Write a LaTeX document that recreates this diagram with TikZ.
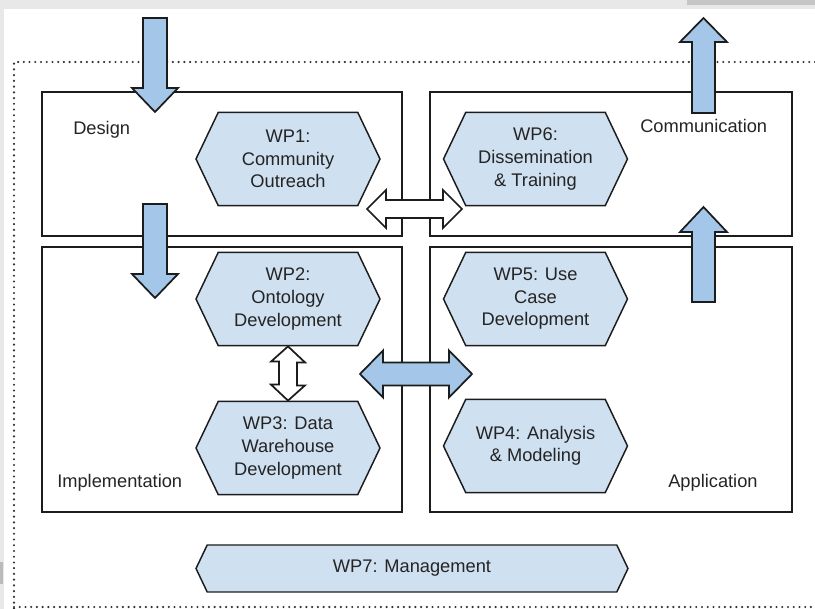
\documentclass[tikz,border=0pt]{standalone}
\usepackage{fontspec}
\setmainfont{Liberation Sans}
\usetikzlibrary{shapes.symbols}
\definecolor{wpfill}{RGB}{207,224,241}
\definecolor{arrowfill}{RGB}{164,198,232}
\definecolor{linecolor}{RGB}{28,28,28}
\definecolor{textcolor}{RGB}{36,36,36}
\definecolor{dotcolor}{RGB}{50,50,50}
\definecolor{screengrey}{RGB}{232,232,232}

\tikzset{
  wp/.style={shape=signal,signal to=east and west,signal pointer angle=129,
    draw=linecolor,fill=wpfill,line width=1.1pt,inner sep=0pt,
    minimum width=138pt,minimum height=70pt,align=center,text=textcolor,
    font=\fontsize{13.7}{16.9}\selectfont},
  quad/.style={draw=linecolor,line width=1.4pt},
  phase/.style={inner sep=0pt,anchor=west,text=textcolor,
    font=\fontsize{13.7}{16.9}\selectfont},
  blockarrow/.style={draw=linecolor,line width=1.3pt,fill=arrowfill,line join=miter},
  hollowarrow/.style={blockarrow,fill=white},
  frame/.style={draw=dotcolor,line width=1.8pt,line cap=round,dash pattern=on 0pt off 4.3pt},
}

\begin{document}
\begin{tikzpicture}[x=0.75pt,y=-0.75pt]
	\useasboundingbox (0,0) rectangle (815,609);
	%Bildschirmrand
	\fill[screengrey] (0,0) rectangle (815,9);
	\fill[screengrey!85!black] (687,0) rectangle (815,5);
	\fill[screengrey] (0,9) rectangle (4,609);
	\fill[screengrey!80!black] (0,562) rectangle (3,584);

	%Phasen
	\draw[quad] (42,92) rectangle (402,236);
	\draw[quad] (430,92) rectangle (792,236);
	\draw[quad] (42,247) rectangle (402,512);
	\draw[quad] (430,247) rectangle (792,512);
	\node[phase] (design) at (73,130) {Design};
	\node[phase] (communication) at (640,126) {Communication};
	\node[phase] (implementation) at (57,483) {Implementation};
	\node[phase] (application) at (668,483) {Application};

	%Arbeitspakete
	\node[wp] (wp1) at (288,159) {WP1:\\Community\\Outreach};
	\node[wp] (wp6) at (535.5,159) {WP6:\\Dissemination\\\& Training};
	\node[wp] (wp2) at (288,299) {WP2:\\Ontology\\Development};
	\node[wp] (wp5) at (535.5,299) {WP5: Use\\Case\\Development};
	\node[wp] (wp3) at (288,448) {WP3: Data\\Warehouse\\Development};
	\node[wp] (wp4) at (535.5,446) {WP4: Analysis\\\& Modeling};
	\node[wp,minimum width=324pt,minimum height=35.25pt] (wp7) at (412,568.5) {WP7: Management};

	%gepunkteter Rahmen
	\draw[frame] (815,62)--(14,62)--(14,609);
	\draw[frame] (14,607)--(815,607);

	%Pfeile nach unten
	\draw[blockarrow] (143,18)--(167,18)--(167,88)--(178,88)--(155,112)--(132,88)--(143,88)--cycle;
	\draw[blockarrow] (143,204)--(167,204)--(167,274)--(178,274)--(155,298)--(132,274)--(143,274)--cycle;
	%Pfeile nach oben
	\draw[blockarrow] (692,113)--(715,113)--(715,42)--(727,42)--(703.5,18)--(680,42)--(692,42)--cycle;
	\draw[blockarrow] (692,302)--(715,302)--(715,232)--(727,232)--(703.5,207)--(680,232)--(692,232)--cycle;

	%Doppelpfeile
	\draw[hollowarrow] (367,209)--(386,190)--(386,200)--(443,200)--(443,190)--(462,209)
		--(443,228)--(443,218)--(386,218)--(386,228)--cycle;
	\draw[blockarrow] (360,374)--(383,350.5)--(383,362.5)--(449,362.5)--(449,350.5)--(472,374)
		--(449,397.5)--(449,385.5)--(383,385.5)--(383,397.5)--cycle;
	\draw[hollowarrow] (wp2.south)--++(17,16)--++(-8,0)--++(0,23)--++(8,0)--(wp3.north)
		--++(-17,-16)--++(8,0)--++(0,-23)--++(-8,0)--cycle;
\end{tikzpicture}
\end{document}
